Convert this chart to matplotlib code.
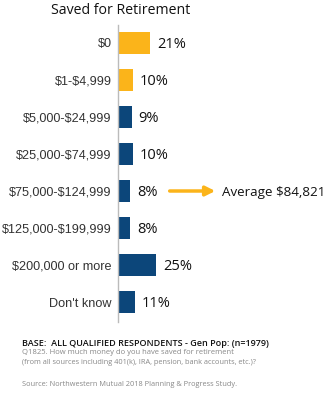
import matplotlib.pyplot as plt

# Data
categories = ['$0', '$1-$4,999', '$5,000-$24,999', '$25,000-$74,999',
              '$75,000-$124,999', '$125,000-$199,999', '$200,000 or more',
              "Don't know"]
values = [21, 10, 9, 10, 8, 8, 25, 11]
highlighted = ['$0', '$1-$4,999']
average_label = 'Average $84,821'
average_row = '$75,000-$124,999'

footnotes = [
    'BASE:  ALL QUALIFIED RESPONDENTS - Gen Pop: (n=1979)',
    'Q1825. How much money do you have saved for retirement',
    '(from all sources including 401(k), IRA, pension, bank accounts, etc.)?',
    'Source: Northwestern Mutual 2018 Planning & Progress Study.',
]

gold = '#fbb41a'
navy = '#0c467a'


def esc(s):
    # keep dollar signs literal (no mathtext)
    return s.replace('$', r'\$')


fig = plt.figure(figsize=(3.24, 4.0), dpi=100)
ax = fig.add_axes([118 / 324, 1 - 322 / 400, 206 / 324, 297 / 400])

ypos = list(range(len(categories)))
colors = [gold if c in highlighted else navy for c in categories]
ax.barh(ypos, values, height=0.57, color=colors, edgecolor='none')

ax.set_xlim(0, 135.5)
ax.set_ylim(7.54, -0.486)

for y, v in zip(ypos, values):
    ax.text(v + 4.5, y + 0.04, f'{v}%', va='center', ha='left',
            fontsize=10.5, family='Open Sans', color='#111111')

# arrow pointing at the average
ya = categories.index(average_row)
ax.annotate('', xy=(64, ya), xytext=(34, ya),
            arrowprops=dict(arrowstyle='-|>', color=gold, lw=2.5,
                            mutation_scale=14, shrinkA=0, shrinkB=0))
ax.text(68.5, ya + 0.04, esc(average_label), va='center', ha='left',
        fontsize=9.6, family='Open Sans', color='#111111')

ax.set_yticks(ypos)
ax.set_yticklabels([esc(c) for c in categories], fontsize=9.1,
                   family='Liberation Sans', color='#333333')
ax.tick_params(axis='y', length=0, pad=4.5)
ax.set_xticks([])
for s in ['top', 'right', 'bottom']:
    ax.spines[s].set_visible(False)
ax.spines['left'].set_color('#bbbbbb')
ax.spines['left'].set_linewidth(1)

fig.text(51 / 324, 1 - 10 / 400, 'Saved for Retirement', ha='left',
         va='center', fontsize=10.2, family='Open Sans', color='#111111')

fig.text(22 / 324, 1 - 343 / 400, footnotes[0], ha='left', va='center',
         fontsize=6.5, family='Open Sans', weight='semibold', color='#111111')
fig.text(22 / 324, 1 - 353 / 400, footnotes[1], ha='left', va='center',
         fontsize=5.5, family='Open Sans', color='#888888')
fig.text(22 / 324, 1 - 362 / 400, footnotes[2], ha='left', va='center',
         fontsize=5.3, family='Open Sans', color='#888888')
fig.text(22 / 324, 1 - 385 / 400, footnotes[3], ha='left', va='center',
         fontsize=5.3, family='Open Sans', color='#888888')

fig.savefig('out.png', dpi=100)
